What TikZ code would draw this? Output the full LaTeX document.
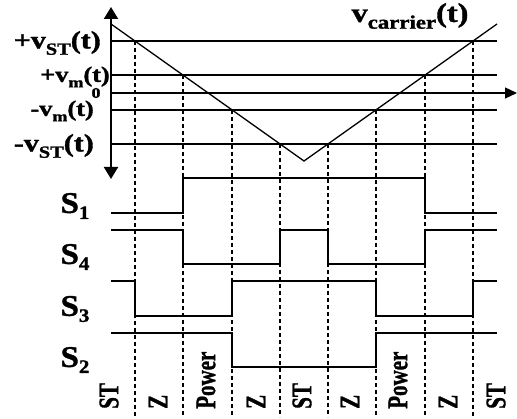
\documentclass[tikz,border=0pt]{standalone}
\usepackage{fontspec}
\setmainfont{Liberation Serif}
\newfontfamily\heavy{Liberation Serif}[UprightFont=* Bold, FakeBold=1.2]
\usetikzlibrary{arrows.meta}
\newcommand{\sublab}[4]{\scalebox{1.2}[1]{\heavy\fontsize{#1}{#1}\selectfont #2\raisebox{-0.25em}{\fontsize{#3}{#3}\selectfont #4}(t)}}
\newcommand{\slab}[1]{\scalebox{1.1}[1]{\heavy\fontsize{30}{30}\selectfont S\raisebox{-0.2em}{\fontsize{19}{19}\selectfont #1}}}
\newcommand{\blab}[1]{\scalebox{1}[1.35]{\heavy\fontsize{21}{21}\selectfont #1}}
\begin{document}
\begin{tikzpicture}[x=1pt,y=-1pt,
  axisline/.style={line width=2pt},
  refline/.style={line width=1.3pt},
  modline/.style={line width=2pt},
  carrierline/.style={line width=1.3pt},
  sig/.style={line width=2.2pt},
  guide/.style={line width=2pt, dash pattern=on 4pt off 3pt},
  lbl/.style={inner sep=0pt},
  tri/.tip={Triangle[width=14pt,length=12pt]},
]
\useasboundingbox (0,0) rectangle (517,419);

% axes
\coordinate (ytop) at (111,7);
\coordinate (ybot) at (111,179);
\coordinate (xorg) at (111,93);
\coordinate (xend) at (517,93);
\draw[axisline, tri-tri] (ytop) -- (ybot);
\draw[refline, -{Triangle[width=11pt,length=12pt]}] (xorg) -- (xend);

% reference levels
\coordinate (stpL) at (111,41);  \coordinate (stpR) at (497,41);
\coordinate (vmpL) at (111,75);  \coordinate (vmpR) at (497,75);
\coordinate (vmnL) at (111,110); \coordinate (vmnR) at (497,110);
\coordinate (stnL) at (111,144); \coordinate (stnR) at (497,144);
\draw[refline] (stpL) -- (stpR);
\draw[modline] (vmpL) -- (vmpR);
\draw[modline] (vmnL) -- (vmnR);
\draw[refline] (stnL) -- (stnR);

% carrier
\coordinate (cA) at (111,24);
\coordinate (cB) at (304,161);
\coordinate (cC) at (497,24);
\draw[carrierline] (cA) -- (cB) -- (cC);

% crossing points and guide lines
\foreach \n/\x/\y in {g1/135/41, g2/183/75, g3/232/110, g4/280/144, g5/328/144, g6/376/110, g7/425/75, g8/473/41} {
  \coordinate (\n) at (\x,\y);
  \coordinate (\n b) at (\x,417);
  \draw[guide] (\n) -- (\n b);
}

% switching signals
\draw[sig] (111,213) -- (183,213) -- (183,178) -- (425,178) -- (425,213) -- (497,213);
\draw[sig] (111,230) -- (183,230) -- (183,264) -- (280,264) -- (280,230) -- (328,230) -- (328,264) -- (425,264) -- (425,230) -- (497,230);
\draw[sig] (111,281) -- (135,281) -- (135,316) -- (232,316) -- (232,281) -- (376,281) -- (376,316) -- (473,316) -- (473,281) -- (497,281);
\draw[sig] (111,333) -- (232,333) -- (232,367) -- (376,367) -- (376,333) -- (497,333);

% labels
\node[lbl, anchor=east] (l1) at (101,43) {\sublab{25}{+v}{17}{ST}};
\node[lbl, anchor=east] (l2) at (110,77) {\sublab{22}{+v}{15}{m}};
\node[lbl] (l0) at (96,93) {\scalebox{1.2}[1]{\heavy\fontsize{15}{15}\selectfont 0}};
\node[lbl, anchor=east] (l3) at (94,111) {\sublab{22}{-v}{15}{m}};
\node[lbl, anchor=east] (l4) at (94,146) {\sublab{25}{-v}{17}{ST}};
\node[lbl] (lc) at (410,16) {\sublab{27}{v}{19}{carrier}};

\node[lbl] (s1) at (75,206) {\slab{1}};
\node[lbl] (s4) at (75,257) {\slab{4}};
\node[lbl] (s3) at (75,309) {\slab{3}};
\node[lbl] (s2) at (75,360) {\slab{2}};

\foreach \n/\x/\t in {b1/109/ST, b2/158/Z, b3/206/Power, b4/256/Z, b5/302/ST, b6/350/Z, b7/398/Power, b8/448/Z, b9/496/ST} {
  \node[lbl, rotate=90, anchor=west] (\n) at (\x,409) {\blab{\t}};
}
\end{tikzpicture}
\end{document}
